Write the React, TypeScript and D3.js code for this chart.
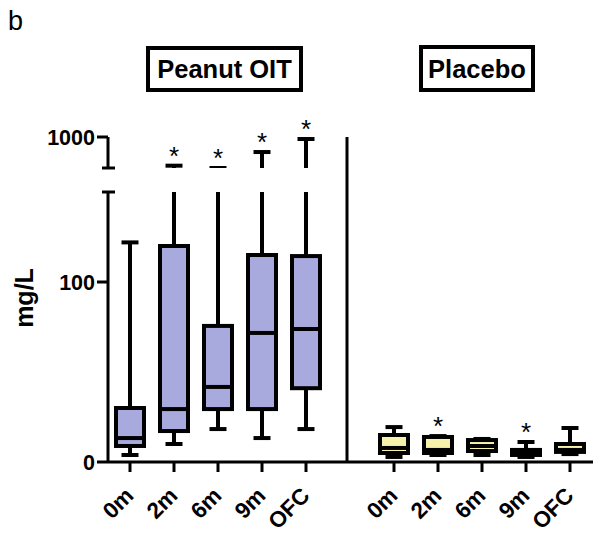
import React from "react";
import * as d3 from "d3";

const W = 600;
const H = 536;

const timepoints = ["0m", "2m", "6m", "9m", "OFC"];
const panelTitles = ["Peanut OIT", "Placebo"];
const yTickValues = [0, 100, 1000];
const yLabel = "mg/L";
const panelLetter = "b";

// Peanut OIT (mg/L)
const peanutMin = [3.9, 10, 18.3, 13.3, 18.3];
const peanutQ1 = [8.9, 17.2, 29.4, 29.4, 41];
const peanutMedian = [13.3, 29.4, 41.7, 71.7, 73.9];
const peanutQ3 = [30, 120, 75.6, 115, 114.4];
const peanutMax = [122, 630, 600, 806, 974];
const peanutSig = [false, true, true, true, true];

// Placebo (mg/L)
const placeboMin = [2.8, 3.9, 3.9, 2.8, 4.4];
const placeboQ1 = [5.0, 5.0, 6.1, 3.9, 5.6];
const placeboMedian = [7.8, 6.7, 8.9, 5.0, 6.7];
const placeboQ3 = [15, 13.9, 12.2, 6.7, 10];
const placeboMax = [19.4, 14.4, 12.8, 11.1, 18.9];
const placeboSig = [false, true, false, true, false];

const FONT = "Arial, 'Liberation Sans', Helvetica, sans-serif";

const breakLow = 150;
const breakHigh = 600;
const yLow = d3.scaleLinear().domain([0, breakLow]).range([462, 192]);
const yHigh = d3.scaleLinear().domain([breakHigh, 1000]).range([168, 137]);
const yAny = (v: number) => (v <= breakLow ? yLow(v) : yHigh(v));

const xPeanut = d3.scalePoint<string>().domain(timepoints).range([130, 306]);
const xPlacebo = d3.scalePoint<string>().domain(timepoints).range([394, 570]);

const axisX = 108;
const dividerX = 347;
const axisRight = 593;
const baseY = yLow(0);

type Series = {
  x: d3.ScalePoint<string>;
  min: number[];
  q1: number[];
  med: number[];
  q3: number[];
  max: number[];
  sig: boolean[];
  fill: string;
};

const series: Series[] = [
  { x: xPeanut, min: peanutMin, q1: peanutQ1, med: peanutMedian, q3: peanutQ3, max: peanutMax, sig: peanutSig, fill: "#a8aadd" },
  { x: xPlacebo, min: placeboMin, q1: placeboQ1, med: placeboMedian, q3: placeboQ3, max: placeboMax, sig: placeboSig, fill: "#f7f2ab" },
];

const boxW = 28;
const capW = 17;
const SW = 4;

function Box({ s, i }: { s: Series; i: number }) {
  const cx = s.x(timepoints[i]) as number;
  const yq1 = yLow(s.q1[i]);
  const yq3 = yLow(s.q3[i]);
  const ym = yLow(s.med[i]);
  const ymin = yLow(s.min[i]);
  const mx = s.max[i];
  const lowerTop = mx > breakLow ? yLow(breakLow) : yLow(mx);
  const capY = yAny(mx);
  return (
    <g>
      <line x1={cx} x2={cx} y1={yq3} y2={lowerTop} stroke="#000" strokeWidth={SW} />
      {mx <= breakLow && (
        <line x1={cx - capW / 2} x2={cx + capW / 2} y1={capY} y2={capY} stroke="#000" strokeWidth={SW} />
      )}
      {mx > breakLow && (
        <g clipPath="url(#upperClip)">
          <line x1={cx} x2={cx} y1={yHigh(breakHigh)} y2={capY} stroke="#000" strokeWidth={SW} />
          <line x1={cx - capW / 2} x2={cx + capW / 2} y1={capY} y2={capY} stroke="#000" strokeWidth={SW} />
        </g>
      )}
      <line x1={cx} x2={cx} y1={yq1} y2={ymin} stroke="#000" strokeWidth={SW} />
      <line x1={cx - capW / 2} x2={cx + capW / 2} y1={ymin} y2={ymin} stroke="#000" strokeWidth={SW} />
      <rect x={cx - boxW / 2} y={yq3} width={boxW} height={yq1 - yq3} fill={s.fill} stroke="none" />
      <line x1={cx - boxW / 2} x2={cx + boxW / 2} y1={ym} y2={ym} stroke="#000" strokeWidth={SW} />
      <rect x={cx - boxW / 2} y={yq3} width={boxW} height={yq1 - yq3} fill="none" stroke="#000" strokeWidth={SW} />
      {s.sig[i] && (
        <text x={cx} y={Math.min(capY, yq3) - 1} textAnchor="middle" fontSize={26} fontFamily={FONT} fill="#000">
          *
        </text>
      )}
    </g>
  );
}

export default function App() {
  return (
    <svg width={W} height={H} style={{ position: "absolute", left: 0, top: 0, background: "#fff" }}>
      <defs>
        <clipPath id="upperClip">
          <rect x={0} y={100} width={W} height={68} />
        </clipPath>
      </defs>
      <rect x={0} y={0} width={W} height={H} fill="#fff" />
      <text x={8} y={30} fontSize={27} fontFamily={FONT} fill="#000">
        {panelLetter}
      </text>

      <rect x={148} y={48} width={153} height={42} fill="#fff" stroke="#000" strokeWidth={4} />
      <text x={224.5} y={78} textAnchor="middle" fontSize={25.5} fontWeight="bold" fontFamily={FONT}>
        {panelTitles[0]}
      </text>
      <rect x={421} y={47} width={112} height={43} fill="#fff" stroke="#000" strokeWidth={4} />
      <text x={477} y={78} textAnchor="middle" fontSize={25.5} fontWeight="bold" fontFamily={FONT}>
        {panelTitles[1]}
      </text>

      <text
        transform={`translate(33,298) rotate(-90)`}
        textAnchor="middle"
        fontSize={25}
        fontWeight="bold"
        fontFamily={FONT}
      >
        {yLabel}
      </text>

      <line x1={axisX} x2={axisX} y1={yHigh(1000)} y2={yHigh(breakHigh)} stroke="#000" strokeWidth={3} />
      <line x1={axisX} x2={axisX} y1={yLow(breakLow)} y2={baseY} stroke="#000" strokeWidth={3} />
      <line x1={axisX - 6} x2={axisX + 7} y1={yHigh(breakHigh)} y2={yHigh(breakHigh)} stroke="#000" strokeWidth={3} />
      <line x1={axisX - 6} x2={axisX + 7} y1={yLow(breakLow)} y2={yLow(breakLow)} stroke="#000" strokeWidth={3} />
      {yTickValues.map((v) => {
        const y = yAny(v);
        return (
          <g key={v}>
            <line x1={axisX - 11} x2={axisX} y1={y} y2={y} stroke="#000" strokeWidth={3} />
            <text x={axisX - 13} y={y + 8} textAnchor="end" fontSize={21.5} fontWeight="bold" fontFamily={FONT}>
              {v}
            </text>
          </g>
        );
      })}

      <line x1={axisX} x2={axisRight} y1={baseY} y2={baseY} stroke="#000" strokeWidth={3} />
      <line x1={dividerX} x2={dividerX} y1={yHigh(1000)} y2={baseY} stroke="#000" strokeWidth={3} />
      {series.map((s, si) =>
        timepoints.map((t) => {
          const x = s.x(t) as number;
          return (
            <g key={`${si}-${t}`}>
              <line x1={x} x2={x} y1={baseY} y2={baseY + 10} stroke="#000" strokeWidth={3} />
              <text
                transform={`translate(${x + 5},${baseY + 35}) rotate(-45)`}
                textAnchor="end"
                fontSize={22.5}
                fontWeight="bold"
                fontFamily={FONT}
              >
                {t}
              </text>
            </g>
          );
        })
      )}

      {series.map((s, si) => timepoints.map((t, i) => <Box key={`b${si}-${i}`} s={s} i={i} />))}
    </svg>
  );
}
